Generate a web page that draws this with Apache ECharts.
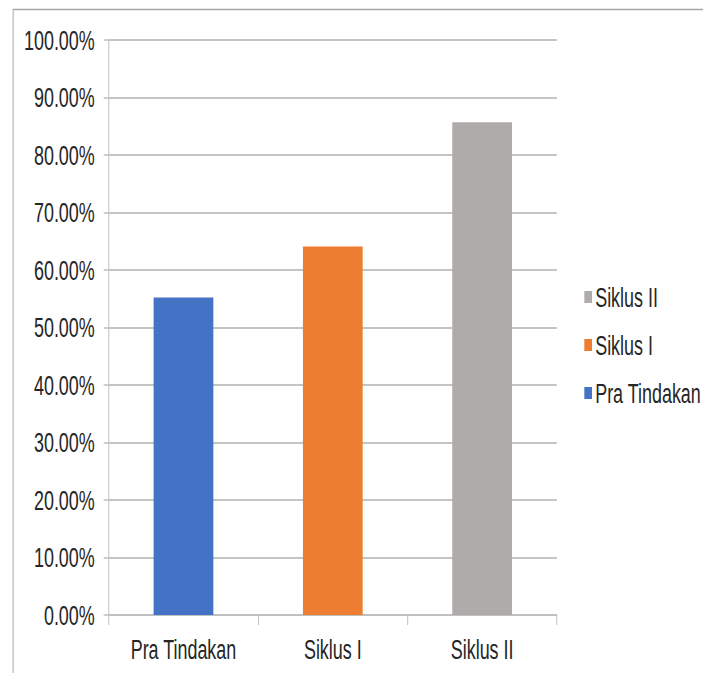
<!DOCTYPE html>
<html><head><meta charset="utf-8">
<script src="https://cdn.jsdelivr.net/npm/echarts@6/dist/echarts.min.js"></script>
<style>
html,body{margin:0;padding:0;background:#fff;overflow:hidden}
#wrap{width:703px;height:673px;overflow:hidden;position:relative}
#c{width:1099px;height:673px;transform:scaleX(0.64);transform-origin:0 0;position:absolute;left:0;top:0}
</style>
</head><body><div id="wrap"><div id="c"></div></div>
<script>
const categories = ['Pra Tindakan', 'Siklus I', 'Siklus II'];
const seriesNames = ['Pra Tindakan', 'Siklus I', 'Siklus II'];
const values = [55.2, 64.1, 85.7];
const colors = ['#4472c4', '#ed7d31', '#afabab'];
const legendOrder = ['Siklus II', 'Siklus I', 'Pra Tindakan'];

const font = '"Liberation Sans", Arial, Helvetica, sans-serif';
const chart = echarts.init(document.getElementById('c'), null, {renderer: 'svg'});
const series = seriesNames.map((n, i) => ({
  name: n, type: 'bar', stack: 'all', barWidth: '40%',
  itemStyle: {color: colors[i]},
  data: categories.map((c, j) => j === i ? values[i] : null)
}));
chart.setOption({
  animation: false,
  graphic: [{type: 'rect', shape: {x: 20.5, y: 9.5, width: 1200, height: 800},
    style: {fill: 'none', stroke: '#a6a6a6', lineWidth: 1.5}}],
  grid: {left: 170, right: 229, top: 40, bottom: 58},
  legend: {
    data: legendOrder, orient: 'vertical', left: 908, top: 278,
    itemWidth: 12, itemHeight: 12, itemGap: 20, icon: 'rect',
    textStyle: {fontFamily: font, fontSize: 28, lineHeight: 28, color: '#262626'}
  },
  xAxis: {
    type: 'category', data: categories,
    axisLine: {lineStyle: {color: '#bfbfbf', width: 1.5}},
    axisTick: {show: true, length: 10, lineStyle: {color: '#bfbfbf', width: 1.5}},
    axisLabel: {fontFamily: font, fontSize: 28, color: '#262626', margin: 20}
  },
  yAxis: {
    type: 'value', min: 0, max: 100, interval: 10,
    axisLine: {show: true, lineStyle: {color: '#bfbfbf', width: 1.5}},
    axisTick: {show: true, length: 8, lineStyle: {color: '#bfbfbf', width: 1.5}},
    splitLine: {lineStyle: {color: '#c4c4c4', width: 2}},
    axisLabel: {fontFamily: font, fontSize: 28, color: '#262626', margin: 22,
      formatter: v => v.toFixed(2) + '%'}
  },
  series: series
});
</script></body></html>
